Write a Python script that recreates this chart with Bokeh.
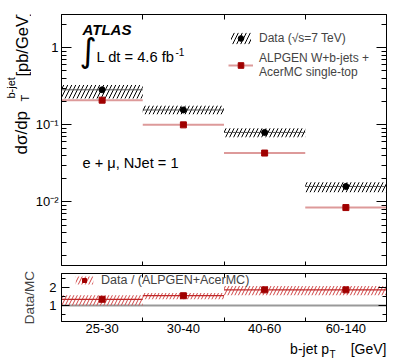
import numpy as np
from bokeh.plotting import figure
from bokeh.layouts import column, row
from bokeh.models import (FixedTicker, LinearAxis, LogAxis, Label, Legend,
                          LegendItem, Span, Range1d, CustomLabelingPolicy)
from bokeh.embed import file_html
from bokeh.resources import INLINE

# ---------------- data ----------------
categories = ["25-30", "30-40", "40-60", "60-140"]
data_xsec = [0.285, 0.156, 0.0798, 0.0159]
data_band_hi = [0.330, 0.177, 0.0906, 0.0180]
data_band_lo = [0.219, 0.137, 0.0690, 0.0134]
mc_xsec = [0.209, 0.100, 0.0431, 0.00846]
ratio = [1.35, 1.55, 1.88, 1.88]
ratio_band_hi = [1.58, 1.70, 2.10, 2.10]
ratio_band_lo = [1.00, 1.35, 1.58, 1.58]
ytick_values = [0.01, 0.1, 1]
ytick_labels = ["10⁻²", "10⁻¹", "1"]
rtick_values = [1, 2]
rtick_labels = ["1", "2"]

FONT = "Liberation Sans"
n = len(categories)
idx = np.arange(n, dtype=float)
left = idx
right = idx + 1.0
center = idx + 0.5
edges = [float(v) for v in idx[1:]]
rot = np.pi / 2


def style_axis(ax, tick_in, minor_in, font_size=None, standoff=0):
    ax.axis_line_color = "black"
    ax.major_tick_in = tick_in
    ax.major_tick_out = 0
    ax.minor_tick_in = minor_in
    ax.minor_tick_out = 0
    ax.major_tick_line_color = "black"
    ax.minor_tick_line_color = "black"
    ax.major_label_text_font = FONT
    ax.major_label_text_color = "black"
    ax.major_label_standoff = standoff
    if font_size is None:
        # tick marks only, no labels
        ax.major_label_text_font_size = "1px"
        ax.major_label_policy = CustomLabelingPolicy(code="return []")
    else:
        ax.major_label_text_font_size = font_size


def lab(p, x, y, text, size, angle=0.0, style="normal", font=FONT,
        baseline="alphabetic", align="left"):
    p.add_layout(Label(x=x, y=y, x_units="screen", y_units="screen",
                       text=text, text_font=font, text_font_size=size,
                       text_font_style=style, angle=angle,
                       text_baseline=baseline, text_align=align,
                       text_color="black"))


def strip(w, h):
    s = figure(width=w, height=h, x_range=Range1d(0, 1), y_range=Range1d(0, 1),
               x_axis_location=None, y_axis_location=None,
               output_backend="svg", toolbar_location=None, min_border=0,
               min_border_left=0, min_border_right=0, min_border_top=0,
               min_border_bottom=0)
    s.grid.visible = False
    s.outline_line_color = None
    return s


# ---------------- y-title strip (left of top panel) ----------------
ys = strip(31, 269)
lab(ys, 21, 111, "dσ/dp", "17px", angle=rot)
lab(ys, 24, 164, "T", "11px", angle=rot)
lab(ys, 10, 167, "b-jet", "11px", angle=rot)
lab(ys, 21, 254, "[pb/GeV]", "16.5px", angle=rot, align="right")

# ---------------- top panel ----------------
p1 = figure(width=376, height=269, x_range=Range1d(0, n),
            y_range=Range1d(0.0015, 2.7), y_axis_type="log",
            x_axis_location=None, y_axis_location="left",
            output_backend="svg", toolbar_location=None,
            min_border_left=30, min_border_right=21, min_border_top=14,
            min_border_bottom=0)
p1.grid.visible = False
p1.outline_line_color = "black"

minor_log = [m * 10.0 ** e for e in (-3, -2, -1, 0) for m in range(2, 10)]
yticker = FixedTicker(ticks=ytick_values, minor_ticks=minor_log)
ya = p1.yaxis[0]
ya.ticker = yticker
style_axis(ya, 10, 5, "13px", 3)
ya.major_label_overrides = dict(zip(ytick_values, ytick_labels))
ra = LogAxis(ticker=yticker)
style_axis(ra, 10, 5)
p1.add_layout(ra, "right")
xt_edges = FixedTicker(ticks=edges)
ta = LinearAxis(ticker=xt_edges)
style_axis(ta, 5, 0)
p1.add_layout(ta, "above")
ba = LinearAxis(ticker=xt_edges)
style_axis(ba, 4, 0)
p1.add_layout(ba, "below")

band = p1.quad(left=left, right=right, bottom=data_band_lo, top=data_band_hi,
               fill_alpha=0, line_alpha=0, hatch_pattern="/",
               hatch_color="black", hatch_scale=8, hatch_weight=1)
p1.segment(x0=left, x1=right, y0=data_xsec, y1=data_xsec,
           line_color="#555555", line_width=1)
mcl = p1.segment(x0=left, x1=right, y0=mc_xsec, y1=mc_xsec,
                 line_color="#dd9a9a", line_width=2)
dot = p1.scatter(x=center, y=data_xsec, marker="circle", size=6,
                 color="black")
sq = p1.scatter(x=center, y=mc_xsec, marker="square", size=6,
                color="#a00000")

leg1 = Legend(items=[
    LegendItem(label="Data (√s=7 TeV)", renderers=[band, dot]),
    LegendItem(label="ALPGEN W+b-jets +\nAcerMC single-top",
               renderers=[mcl, sq]),
], location=(167, 186), glyph_width=25, glyph_height=14, label_standoff=6,
    label_text_font=FONT, label_text_font_size="12px",
    label_text_line_height=1.05, padding=0, margin=0, spacing=3,
    background_fill_alpha=0, border_line_alpha=0, label_height=20)
p1.add_layout(leg1)

lab(p1, 21, 236, "ATLAS", "15px", style="bold italic")
lab(p1, 18, 215, "∫", "33px", font="DejaVu Sans", baseline="middle")
lab(p1, 35, 209, "L dt = 4.6 fb", "14.7px")
lab(p1, 114, 214, "-1", "10px")
lab(p1, 21, 103, "e + μ, NJet = 1", "14.6px")

# ---------------- ratio panel ----------------
p2 = figure(width=407, height=69, x_range=p1.x_range,
            y_range=Range1d(0.1, 2.8), x_axis_location="below",
            y_axis_location="left", output_backend="svg",
            toolbar_location=None, min_border_left=61, min_border_right=21,
            min_border_top=0, min_border_bottom=17)
p2.grid.visible = False
p2.outline_line_color = "black"

xb = p2.xaxis[0]
xb.ticker = FixedTicker(ticks=[float(c) for c in center], minor_ticks=edges)
style_axis(xb, 0, 4, "13px", 2)
xb.major_tick_line_color = None
xb.major_label_overrides = {float(c): t for c, t in zip(center, categories)}
ta2 = LinearAxis(ticker=FixedTicker(ticks=edges))
style_axis(ta2, 4, 0)
p2.add_layout(ta2, "above")

rticker = FixedTicker(ticks=rtick_values, minor_ticks=[0.5, 1.5, 2.5])
yb = p2.yaxis[0]
yb.ticker = rticker
style_axis(yb, 8, 4, "13px", 5)
yb.major_label_overrides = dict(zip(rtick_values, rtick_labels))
yb.axis_label = "Data/MC"
yb.axis_label_text_font = FONT
yb.axis_label_text_font_size = "13.5px"
yb.axis_label_text_font_style = "normal"
yb.axis_label_standoff = 9
rb = LinearAxis(ticker=rticker)
style_axis(rb, 8, 4)
p2.add_layout(rb, "right")

p2.add_layout(Span(location=1, dimension="width", line_color="#999999",
                   line_width=2, level="underlay"))
rband = p2.quad(left=left, right=right, bottom=ratio_band_lo,
                top=ratio_band_hi, fill_alpha=0, line_alpha=0,
                hatch_pattern="/", hatch_color="#d04545", hatch_scale=7,
                hatch_weight=1)
p2.segment(x0=left, x1=right, y0=ratio, y1=ratio, line_color="#c02828",
           line_width=1.2)
rsq = p2.scatter(x=center, y=ratio, marker="square", size=6, color="#a00000")

leg2 = Legend(items=[
    LegendItem(label="Data / (ALPGEN+AcerMC)", renderers=[rband, rsq]),
], location=(12, 34), glyph_width=22, glyph_height=10, label_standoff=6,
    label_text_font=FONT, label_text_font_size="12.5px", padding=0,
    margin=0, background_fill_alpha=0, border_line_alpha=0, label_height=14)
p2.add_layout(leg2)

# ---------------- x-title strip (below ratio panel) ----------------
# (its frame is aligned by the column with the ratio panel's frame)
xs = strip(407, 21)
lab(xs, 325, 11, "[GeV]", "14px", align="right")
lab(xs, 274, 5, "T", "10px", align="right")
lab(xs, 267.5, 11, "b-jet p", "14px", align="right")

layout = column(row(ys, p1, spacing=0), p2, xs, spacing=0)
open("out.html", "w").write(file_html(layout, INLINE))
